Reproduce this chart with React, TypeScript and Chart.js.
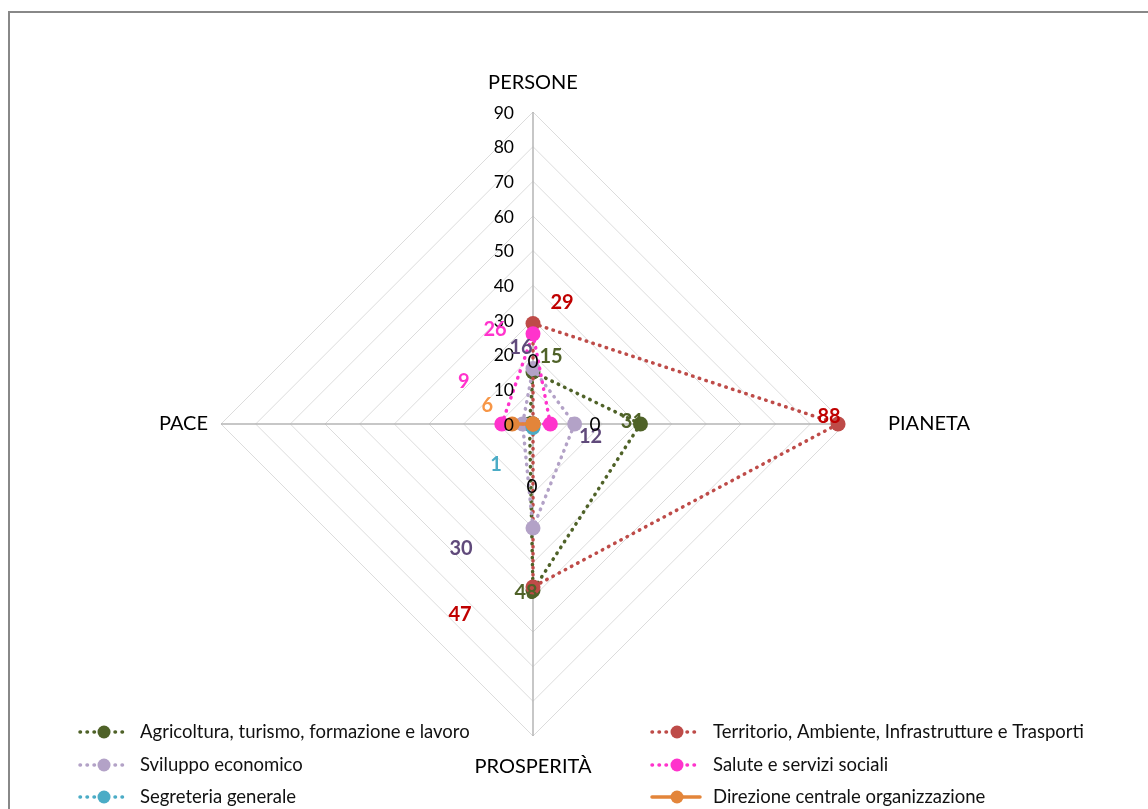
import React, { useEffect, useRef } from "react";
import { Chart, registerables } from "chart.js";

Chart.register(...registerables);

const axisLabels = ["PERSONE", "PIANETA", "PROSPERITÀ", "PACE"];
const tickValues = [0, 10, 20, 30, 40, 50, 60, 70, 80, 90];

const seriesNames = [
  "Agricoltura, turismo, formazione e lavoro",
  "Territorio, Ambiente, Infrastrutture e Trasporti",
  "Sviluppo economico",
  "Salute e servizi sociali",
  "Segreteria generale",
  "Direzione centrale organizzazione",
];

const agricoltura = [15, 31, 48, 1];
const territorio = [29, 88, 47, 0];
const sviluppo = [16, 12, 30, 3];
const salute = [26, 5, 0, 9];
const segreteria = [0, 0, 1, 0];
const direzione = [0, 0, 0, 6];

const seriesValues = [agricoltura, territorio, sviluppo, salute, segreteria, direzione];
const seriesColors = ["#4F6228", "#BE4B48", "#B3A2C7", "#FF33CC", "#4BACC6", "#E3853A"];
const seriesDotted = [true, true, true, true, true, false];

// data label placement: [dataset, index, dx, dy, color, bold]
const labelSpecs: [number, number, number, number, string, boolean][] = [
  [0, 0, 18, -15, "#4F6228", true],
  [0, 1, -8, -2, "#4F6228", true],
  [0, 2, -7, 2, "#4F6228", true],
  [1, 0, 29, -21, "#C00000", true],
  [1, 1, -9, -7, "#C00000", true],
  [1, 2, -73, 28, "#C00000", true],
  [2, 0, -12, -21, "#604A7B", true],
  [2, 1, 16, 13, "#604A7B", true],
  [2, 2, -72, 21, "#604A7B", true],
  [3, 0, -38, -4, "#FF33CC", true],
  [3, 3, -38, -42, "#FF33CC", true],
  [4, 2, -37, 37, "#4BACC6", true],
  [5, 3, -25, -18, "#F79646", true],
  [5, 0, 0, -62, "#000000", false],
  [5, 1, 62, 1, "#000000", false],
  [5, 2, -1, 63, "#000000", false],
];

const FONT = "Lato, 'Open Sans', sans-serif";

const overlayPlugin = {
  id: "overlay",
  afterDraw(chart: any) {
    const ctx = chart.ctx as CanvasRenderingContext2D;
    const scale = chart.scales.r;
    ctx.save();

    // tick labels
    ctx.font = `17.5px ${FONT}`;
    ctx.fillStyle = "#000";
    ctx.textAlign = "right";
    ctx.textBaseline = "middle";
    tickValues.forEach((v) => {
      const d = scale.getDistanceFromCenterForValue(v);
      ctx.fillText(String(v), scale.xCenter - 19, scale.yCenter - d + 1);
    });

    // axis labels
    const extra = [29, 43, 31, 13];
    const aligns: CanvasTextAlign[] = ["center", "left", "center", "right"];
    ctx.font = `20px ${FONT}`;
    axisLabels.forEach((lab, i) => {
      const p = scale.getPointPosition(i, scale.drawingArea + extra[i]);
      ctx.textAlign = aligns[i];
      ctx.fillText(lab, p.x, p.y);
    });

    // data labels
    labelSpecs.forEach(([ds, idx, dx, dy, color, bold]) => {
      const meta = chart.getDatasetMeta(ds);
      const el = meta.data[idx];
      if (!el) return;
      ctx.font = `${bold ? "bold 20px" : "19px"} ${FONT}`;
      ctx.fillStyle = color;
      ctx.textAlign = "center";
      ctx.textBaseline = "middle";
      ctx.fillText(String(seriesValues[ds][idx]), el.x + dx, el.y + dy);
    });

    // legend
    const cols = [
      { x0: 80, x1: 126, dot: 104, tx: 140 },
      { x0: 652, x1: 700, dot: 677, tx: 713 },
    ];
    const rows = [732, 765, 797];
    seriesNames.forEach((name, i) => {
      const c = cols[i % 2];
      const y = rows[Math.floor(i / 2)];
      const col = seriesColors[i];
      ctx.strokeStyle = col;
      ctx.lineWidth = 3.5;
      ctx.lineCap = "round";
      if (seriesDotted[i]) ctx.setLineDash([0.5, 6.5]);
      else ctx.setLineDash([]);
      ctx.beginPath();
      ctx.moveTo(c.x0, y);
      ctx.lineTo(c.x1, y);
      ctx.stroke();
      ctx.setLineDash([]);
      ctx.fillStyle = col;
      ctx.beginPath();
      ctx.arc(c.dot, y, 6.5, 0, Math.PI * 2);
      ctx.fill();
      ctx.fillStyle = "#111";
      ctx.font = `18.5px ${FONT}`;
      ctx.textAlign = "left";
      ctx.textBaseline = "middle";
      ctx.fillText(name, c.tx, y);
    });

    ctx.restore();
  },
};

export default function App() {
  const ref = useRef<HTMLCanvasElement | null>(null);

  useEffect(() => {
    document.body.style.margin = "0";
    if (!ref.current) return;
    const chart = new Chart(ref.current, {
      type: "radar",
      data: {
        labels: axisLabels,
        datasets: seriesValues.map((vals, i) => ({
          label: seriesNames[i],
          data: vals,
          borderColor: seriesColors[i],
          backgroundColor: "rgba(0,0,0,0)",
          pointBackgroundColor: seriesColors[i],
          pointBorderColor: seriesColors[i],
          pointBorderWidth: 0,
          pointRadius: 7.5,
          borderWidth: 3.5,
          borderDash: seriesDotted[i] ? [0.5, 6.5] : [],
          borderCapStyle: "round" as const,
          borderJoinStyle: "round" as const,
          fill: false,
          tension: 0,
          order: 10 - i,
        })),
      },
      options: {
        responsive: false,
        animation: false,
        layout: { padding: { left: 221, right: 303, top: 112, bottom: 73 } },
        plugins: { legend: { display: false }, tooltip: { enabled: false } },
        scales: {
          r: {
            min: 0,
            max: 90,
            startAngle: 0,
            ticks: { stepSize: 10, display: false, showLabelBackdrop: false },
            pointLabels: { display: false },
            grid: { color: "#DCDCDC", lineWidth: 1, circular: false },
            angleLines: { color: "#B4B4B4", lineWidth: 1.5 },
          },
        },
      },
      plugins: [overlayPlugin],
    });
    return () => chart.destroy();
  }, []);

  return (
    <div style={{ position: "relative", width: 1148, height: 809, overflow: "hidden", background: "#fff" }}>
      <canvas ref={ref} width={1148} height={809} style={{ position: "absolute", left: 0, top: 0 }} />
      <div
        style={{
          position: "absolute",
          left: 8,
          top: 11,
          width: 1200,
          height: 900,
          borderTop: "2px solid #888",
          borderLeft: "2px solid #888",
          pointerEvents: "none",
        }}
      />
    </div>
  );
}
